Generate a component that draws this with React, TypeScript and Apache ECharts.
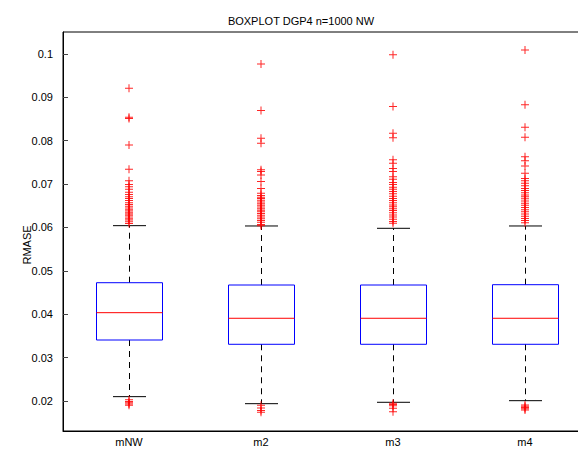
import React, { useEffect, useRef } from "react";
import * as echarts from "echarts";

const categories = ["mNW", "m2", "m3", "m4"];
// [lowerWhisker, Q1, median, Q3, upperWhisker]
const boxStats = [
  [0.0210, 0.03406, 0.04036, 0.04727, 0.06042],
  [0.01938, 0.03307, 0.03907, 0.04674, 0.06035],
  [0.0197, 0.03307, 0.03907, 0.04674, 0.05981],
  [0.02007, 0.03307, 0.03907, 0.04681, 0.06035],
];
const outliersMNW = [0.0921, 0.0854, 0.0851, 0.079, 0.0734, 0.0708, 0.0699, 0.0694, 0.0688, 0.0681, 0.0676, 0.0671, 0.0667, 0.0662, 0.0657, 0.0653, 0.0649, 0.0645, 0.0641, 0.0638, 0.0634, 0.0631, 0.0628, 0.0624, 0.062, 0.0617, 0.0613, 0.0609, 0.0203, 0.0199, 0.0196, 0.0193, 0.019];
const outliersM2 = [0.0977, 0.087, 0.0806, 0.0794, 0.0733, 0.0729, 0.0721, 0.0706, 0.069, 0.0679, 0.0674, 0.067, 0.0667, 0.0663, 0.0659, 0.0655, 0.0651, 0.0647, 0.0643, 0.064, 0.0636, 0.0632, 0.0628, 0.0624, 0.062, 0.0616, 0.0612, 0.0607, 0.0604, 0.019, 0.0184, 0.0178, 0.0174];
const outliersM3 = [0.0998, 0.0879, 0.0817, 0.0807, 0.0756, 0.0748, 0.0736, 0.0729, 0.0717, 0.0711, 0.0704, 0.0699, 0.0693, 0.0688, 0.0683, 0.0678, 0.0672, 0.0667, 0.0662, 0.0657, 0.0652, 0.0648, 0.0643, 0.0639, 0.0634, 0.0629, 0.0624, 0.0619, 0.0614, 0.061, 0.0195, 0.0192, 0.0189, 0.0183, 0.0175];
const outliersM4 = [0.1009, 0.0883, 0.0831, 0.0808, 0.0763, 0.0754, 0.0742, 0.0725, 0.0713, 0.0708, 0.0702, 0.0696, 0.069, 0.0685, 0.068, 0.0675, 0.0671, 0.0666, 0.0661, 0.0656, 0.0651, 0.0646, 0.0641, 0.0636, 0.0631, 0.0626, 0.0621, 0.0616, 0.0611, 0.0191, 0.0188, 0.0185, 0.0182, 0.0179];
const outlierGroups = [outliersMNW, outliersM2, outliersM3, outliersM4];

const FONT = "'Liberation Sans', Arial, Helvetica, sans-serif";
const PLUS =
  "path://M-0.5,-4 L0.5,-4 L0.5,-0.5 L4,-0.5 L4,0.5 L0.5,0.5 L0.5,4 L-0.5,4 L-0.5,0.5 L-4,0.5 L-4,-0.5 L-0.5,-0.5 Z";

export default function App() {
  const ref = useRef<HTMLDivElement>(null);
  useEffect(() => {
    if (!ref.current) return;
    const chart = echarts.init(ref.current, undefined, { renderer: "svg" });
    const boxData = boxStats.map((s, i) => [i, ...s]);
    const outData: any[] = [];
    outlierGroups.forEach((g, i) => g.forEach((v) => outData.push([i, v])));
    chart.setOption({
      animation: false,
      backgroundColor: "#fff",
      title: {
        text: "BOXPLOT DGP4 n=1000 NW",
        left: 296,
        top: 10,
        textAlign: "center",
        textStyle: { fontFamily: FONT, fontSize: 11, fontWeight: "normal", color: "#000" },
      },
      graphic: [
        {
          type: "text",
          x: 27,
          y: 245,
          rotation: Math.PI / 2,
          style: {
            text: "RMASE",
            fontFamily: FONT,
            fontSize: 11,
            fill: "#000",
            align: "center",
            verticalAlign: "middle",
          },
        },
      ],
      grid: {
        left: 63,
        top: 32,
        width: 528,
        height: 399,
        outerBoundsMode: "none",
        containLabel: false,
        show: true,
        borderColor: "#000",
        borderWidth: 1,
        backgroundColor: "transparent",
      },
      xAxis: {
        type: "category",
        data: categories,
        boundaryGap: true,
        axisLine: { lineStyle: { color: "#000", width: 1 } },
        axisTick: { show: false },
        axisLabel: { fontFamily: FONT, fontSize: 11, color: "#000", margin: 5 },
        splitLine: { show: false },
      },
      yAxis: {
        type: "value",
        min: 0.01308,
        max: 0.10507,
        minInterval: 0.01,
        maxInterval: 0.01,
        axisLine: { show: true, lineStyle: { color: "#000", width: 1 } },
        axisTick: { show: true, inside: true, length: 5, lineStyle: { color: "#444" } },
        axisLabel: {
          fontFamily: FONT,
          fontSize: 11,
          color: "#000",
          margin: 10,
          showMinLabel: false,
          showMaxLabel: false,
          formatter: (v: number) => {
            const r = Math.round(v * 1000) / 1000;
            if (Math.abs(r * 100 - Math.round(r * 100)) > 1e-6) return "";
            return String(parseFloat(r.toFixed(3)));
          },
        },
        splitLine: { show: false },
      },
      series: [
        {
          type: "custom",
          data: boxData,
          encode: { x: 0, y: [1, 2, 3, 4, 5] },
          renderItem: (params: any, api: any) => {
            const idx = api.value(0);
            const band = api.size([1, 0])[0];
            const lw = api.coord([idx, api.value(1)]);
            const q1 = api.coord([idx, api.value(2)]);
            const md = api.coord([idx, api.value(3)]);
            const q3 = api.coord([idx, api.value(4)]);
            const uw = api.coord([idx, api.value(5)]);
            const cx = Math.round(lw[0]) + 0.5;
            const hb = band * 0.25;
            const hc = band * 0.125;
            const dash = { stroke: "#000", lineWidth: 1, lineDash: [6, 5] };
            return {
              type: "group",
              children: [
                { type: "line", shape: { x1: cx, y1: q3[1], x2: cx, y2: uw[1] }, style: dash },
                { type: "line", shape: { x1: cx, y1: q1[1], x2: cx, y2: lw[1] }, style: dash },
                { type: "line", shape: { x1: cx - hc, y1: uw[1], x2: cx + hc, y2: uw[1] }, style: { stroke: "#000", lineWidth: 1 } },
                { type: "line", shape: { x1: cx - hc, y1: lw[1], x2: cx + hc, y2: lw[1] }, style: { stroke: "#000", lineWidth: 1 } },
                {
                  type: "rect",
                  shape: { x: cx - hb, y: q3[1], width: hb * 2, height: q1[1] - q3[1] },
                  style: { fill: "none", stroke: "#0000ff", lineWidth: 1 },
                },
                { type: "line", shape: { x1: cx - hb, y1: md[1], x2: cx + hb, y2: md[1] }, style: { stroke: "#ff0000", lineWidth: 1 } },
              ],
            };
          },
          z: 2,
        },
        {
          type: "scatter",
          data: outData,
          symbol: PLUS,
          symbolSize: 8,
          itemStyle: { color: "#ff0000", opacity: 0.85 },
          z: 3,
        },
      ],
    });
    return () => chart.dispose();
  }, []);
  return (
    <div
      ref={ref}
      style={{ position: "absolute", left: 0, top: 0, width: 578, height: 449, overflow: "hidden", background: "#fff" }}
    />
  );
}
